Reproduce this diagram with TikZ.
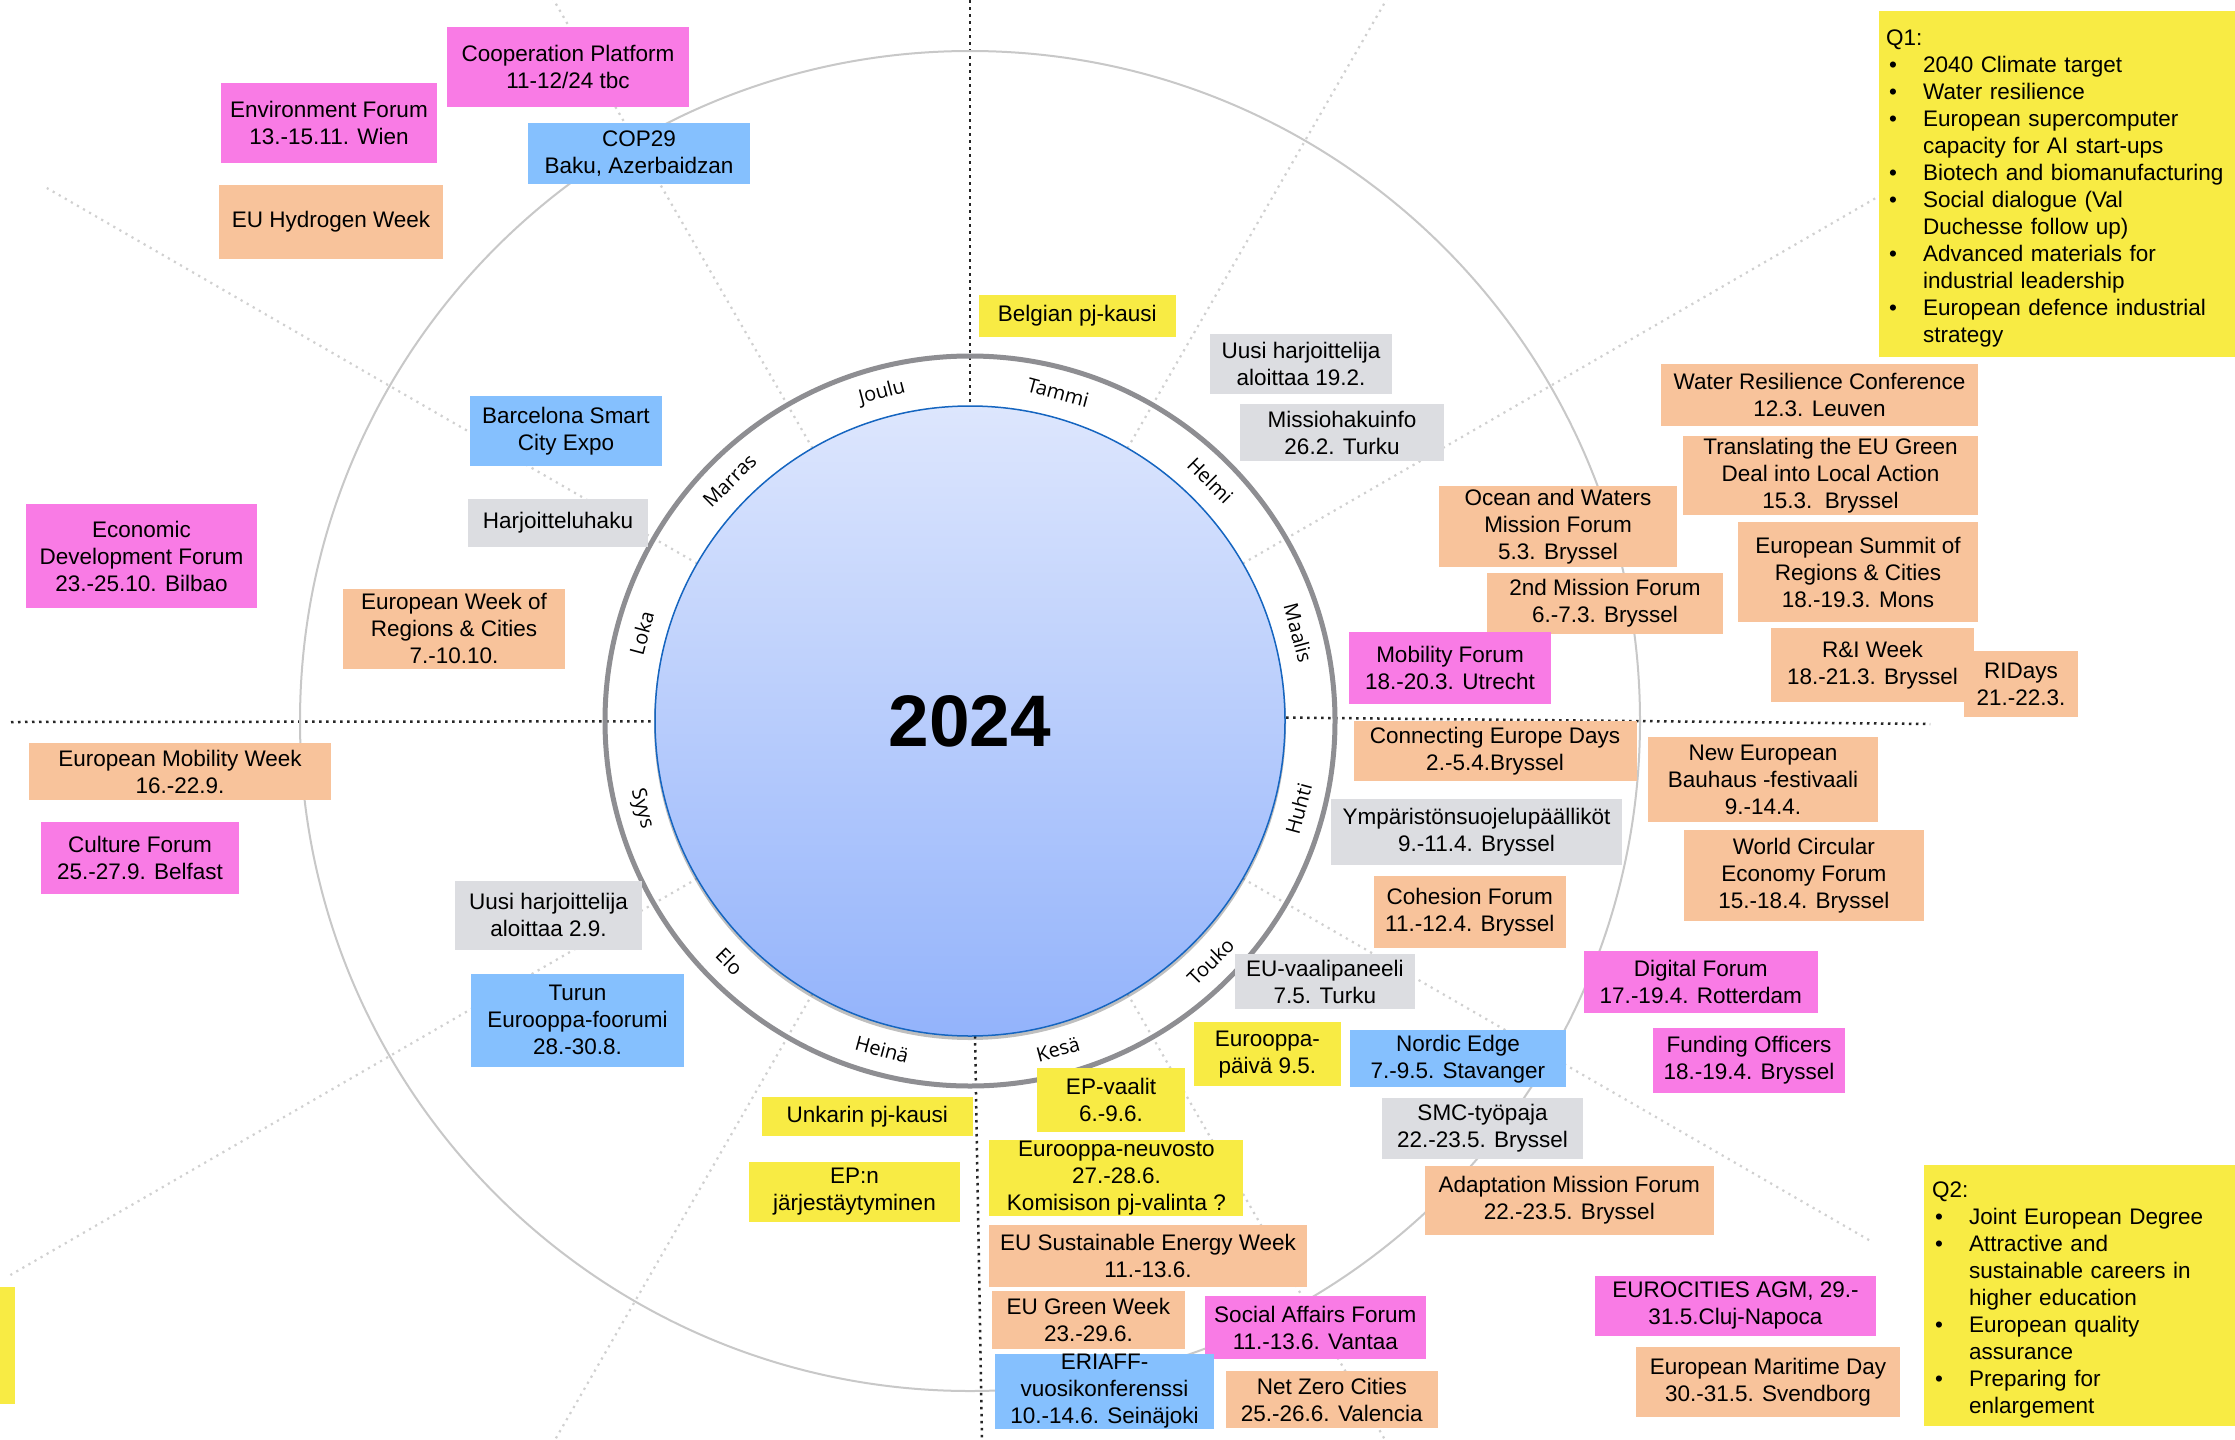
\documentclass[tikz,border=0pt]{standalone}
\usepackage{fontspec}
\setmainfont{Liberation Sans}
\newfontfamily\monthfont{Open Sans}
\usetikzlibrary{calc}
\definecolor{evpink}{HTML}{F97BE5}
\definecolor{evblue}{HTML}{85C0FE}
\definecolor{evorange}{HTML}{F8C39B}
\definecolor{evgray}{HTML}{DCDDE1}
\definecolor{evyellow}{HTML}{F8EB44}
\definecolor{ringgray}{HTML}{8E8E92}
\definecolor{circgray}{HTML}{C8C8C8}
\definecolor{raygray}{HTML}{D0D0D0}
\definecolor{discborder}{HTML}{1565C0}
\definecolor{disctop}{HTML}{DDE6FD}
\definecolor{discbottom}{HTML}{93B3FB}
\newcommand{\qbullet}{\makebox[37pt][l]{\hspace{3pt}\textbullet}}
\newcommand{\qindent}{\makebox[37pt]{}}
\begin{document}
\begin{tikzpicture}[x=1pt,y=-1pt]
				\tikzstyle{every node}+=[inner sep=0pt, align=center, font=\fontsize{22.5}{27}\selectfont]
				\tikzstyle{pinkbox}=[fill=evpink]
				\tikzstyle{bluebox}=[fill=evblue]
				\tikzstyle{orangebox}=[fill=evorange]
				\tikzstyle{graybox}=[fill=evgray]
				\tikzstyle{yellowbox}=[fill=evyellow]
				\tikzstyle{month}=[font=\monthfont\fontsize{20}{24}\selectfont]
				\tikzstyle{ray}=[raygray, line width=2.2, dash pattern=on 2.2pt off 4.8pt]
				\tikzstyle{quarter}=[black!85, line width=2.5, dash pattern=on 2.5pt off 4.5pt]
				\useasboundingbox (0,0) rectangle (2235,1440);
				\fill [white] (0,0) rectangle (2235,1440);
				\coordinate (c) at (970,721);
				\foreach \a/\l in {30/1050pt, 60/900pt, 120/900pt, 150/1066pt, 210/1108pt, 240/850pt, 300/850pt, 330/1040pt}
					\draw [ray] (c) -- ++(\a:\l);
				\draw [quarter] (970,0) -- (c);
				\draw [quarter] (975,1036) -- (982,1440);
				\draw [quarter] (11,722) -- (c);
				\draw [quarter] (1279,717.5) -- (1930,724);
				\draw [circgray, line width=2] (c) circle [radius=670pt];
				\draw [ringgray, line width=5] (c) circle [radius=365pt];
				\fill [black, opacity=0.25] ([yshift=-3pt]c) circle [radius=316pt];
				\draw [discborder, line width=1.5, top color=disctop, bottom color=discbottom] (c) circle [radius=315pt];
				\node [font=\fontsize{73}{80}\selectfont\bfseries] (year) at (c) {2024};
				\foreach \a/\m [count=\i] in {75/Tammi, 45/Helmi, 15/Maalis, 165/Loka, 135/Marras, 105/Joulu}
					\node [month, rotate=\a-90] (up\i) at ($(c)+(\a:340pt)$) {\m};
				\foreach \a/\m [count=\i] in {-15/Huhti, -45/Touko, -75/Kesä, -105/Heinä, -135/Elo, -165/Syys}
					\node [month, rotate=\a+90] (low\i) at ($(c)+(\a:340pt)$) {\m};
				\node [pinkbox, minimum width=242, minimum height=79.5] (coop) at (568,66.75) {Cooperation Platform\\11-12/24 tbc};
				\node [pinkbox, minimum width=216, minimum height=79.5] (envforum) at (329,122.75) {Environment Forum\\13.-15.11. Wien};
				\node [bluebox, minimum width=222, minimum height=61] (cop) at (639,153.5) {COP29\\Baku, Azerbaidzan};
				\node [orangebox, minimum width=224, minimum height=73.5] (hydrogen) at (331,221.75) {EU Hydrogen Week};
				\node [bluebox, minimum width=192, minimum height=70] (barcelona) at (566,431) {Barcelona Smart\\City Expo};
				\node [graybox, minimum width=180, minimum height=48] (harjhaku) at (558,523) {Harjoitteluhaku};
				\node [pinkbox, minimum width=231, minimum height=104] (econ) at (141.5,556) {Economic\\Development Forum\\23.-25.10. Bilbao};
				\node [orangebox, minimum width=222, minimum height=79.5] (ewrc) at (454,628.75) {European Week of\\Regions \& Cities\\7.-10.10.};
				\node [yellowbox, minimum width=196.6, minimum height=41.5] (belgian) at (1077.3,315.75) {Belgian pj-kausi};
				\node [graybox, minimum width=182, minimum height=59.5] (uusi1) at (1301,363.75) {Uusi harjoittelija\\aloittaa 19.2.};
				\node [graybox, minimum width=204, minimum height=57.4] (missio) at (1342,432.7) {Missiohakuinfo\\26.2. Turku};
				\node [yellowbox, anchor=north west, text width=347, inner xsep=7, minimum height=346, align=left] (q1) at (1879,11) {\rule{0pt}{24pt}Q1:\\
					\qbullet 2040 Climate target\\
					\qbullet Water resilience\\
					\qbullet European supercomputer\\
					\qindent capacity for AI start-ups\\
					\qbullet Biotech and biomanufacturing\\
					\qbullet Social dialogue (Val\\
					\qindent Duchesse follow up)\\
					\qbullet Advanced materials for\\
					\qindent industrial leadership\\
					\qbullet European defence industrial\\
					\qindent strategy};
				\node [orangebox, minimum width=317, minimum height=62] (waterres) at (1819.5,395) {Water Resilience Conference\\12.3. Leuven};
				\node [orangebox, minimum width=295, minimum height=79] (translating) at (1830.5,475.5) {Translating the EU Green\\Deal into Local Action\\15.3.~~Bryssel};
				\node [orangebox, minimum width=238, minimum height=81] (ocean) at (1558,526.5) {Ocean and Waters\\Mission Forum\\5.3. Bryssel};
				\node [orangebox, minimum width=240, minimum height=100] (summit) at (1858,572) {European Summit of\\Regions \& Cities\\18.-19.3. Mons};
				\node [orangebox, minimum width=236, minimum height=61] (mission2) at (1605,603) {2nd Mission Forum\\6.-7.3. Bryssel};
				\node [pinkbox, minimum width=202, minimum height=72] (mobility) at (1450,668) {Mobility Forum\\18.-20.3. Utrecht};
				\node [orangebox, minimum width=114, minimum height=66] (ridays) at (2021,684) {RIDays\\21.-22.3.};
				\node [orangebox, minimum width=203, minimum height=73.6] (riweek) at (1872.5,664.8) {R\&I Week\\18.-21.3. Bryssel};
				\node [orangebox, minimum width=302, minimum height=57] (mobweek) at (180,771.5) {European Mobility Week\\16.-22.9.};
				\node [pinkbox, minimum width=198, minimum height=71.5] (culture) at (140,857.75) {Culture Forum\\25.-27.9. Belfast};
				\node [orangebox, minimum width=283, minimum height=60] (ced) at (1495,751) {Connecting Europe Days\\2.-5.4.Bryssel};
				\node [orangebox, minimum width=230, minimum height=85.4] (bauhaus) at (1763,779.7) {New European\\Bauhaus -festivaali\\9.-14.4.};
				\node [graybox, minimum width=291, minimum height=65.6] (ympar) at (1476.5,831.8) {Ympäristönsuojelupäälliköt\\9.-11.4. Bryssel};
				\node [orangebox, minimum width=240.3, minimum height=90.6] (circular) at (1803.9,875.3) {World Circular\\Economy Forum\\15.-18.4. Bryssel};
				\node [orangebox, minimum width=191.5, minimum height=71.7] (cohesion) at (1469.8,911.9) {Cohesion Forum\\11.-12.4. Bryssel};
				\node [graybox, minimum width=187, minimum height=68.6] (uusi2) at (548.5,915.3) {Uusi harjoittelija\\aloittaa 2.9.};
				\node [bluebox, minimum width=213, minimum height=92.6] (turun) at (577.5,1020.3) {Turun\\Eurooppa-foorumi\\28.-30.8.};
				\node [graybox, minimum width=180.3, minimum height=55] (vaalipaneeli) at (1324.9,981.5) {EU-vaalipaneeli\\7.5. Turku};
				\node [pinkbox, minimum width=234.4, minimum height=62] (digital) at (1700.8,982) {Digital Forum\\17.-19.4. Rotterdam};
				\node [yellowbox, minimum width=147.2, minimum height=64.4] (eupaiva) at (1267.4,1054.2) {Eurooppa-\\päivä 9.5.};
				\node [bluebox, minimum width=216.3, minimum height=57.3] (nordic) at (1457.9,1058.7) {Nordic Edge\\7.-9.5. Stavanger};
				\node [pinkbox, minimum width=192, minimum height=65] (funding) at (1749,1060.5) {Funding Officers\\18.-19.4. Bryssel};
				\node [yellowbox, minimum width=148, minimum height=64.4] (epvaalit) at (1111,1099.8) {EP-vaalit\\6.-9.6.};
				\node [graybox, minimum width=201, minimum height=60.5] (smc) at (1482.5,1128.3) {SMC-työpaja\\22.-23.5. Bryssel};
				\node [yellowbox, minimum width=254, minimum height=76] (eurneuv) at (1116.4,1178) {Eurooppa-neuvosto\\27.-28.6.\\Komisison pj-valinta ?};
				\node [orangebox, minimum width=288.6, minimum height=68.7] (adaptation) at (1569.3,1200.4) {Adaptation Mission Forum\\22.-23.5. Bryssel};
				\node [yellowbox, minimum width=210.6, minimum height=39.4] (unkarin) at (867.3,1116.7) {Unkarin pj-kausi};
				\node [yellowbox, minimum width=211, minimum height=60] (epn) at (854.5,1192) {EP:n\\järjestäytyminen};
				\node [orangebox, minimum width=318, minimum height=61.7] (eusew) at (1148,1255.9) {EU Sustainable Energy Week\\11.-13.6.};
				\node [orangebox, minimum width=192.7, minimum height=58] (greenweek) at (1088.4,1320) {EU Green Week\\23.-29.6.};
				\node [pinkbox, minimum width=220.5, minimum height=63] (socaff) at (1315.3,1327.5) {Social Affairs Forum\\11.-13.6. Vantaa};
				\node [bluebox, minimum width=219, minimum height=75] (eriaff) at (1104.5,1391.5) {ERIAFF-\\vuosikonferenssi\\10.-14.6. Seinäjoki};
				\node [orangebox, minimum width=212.5, minimum height=57] (netzero) at (1331.8,1399.5) {Net Zero Cities\\25.-26.6. Valencia};
				\node [pinkbox, minimum width=281.3, minimum height=60.4] (eurocities) at (1735.4,1305.8) {EUROCITIES AGM, 29.-\\31.5.Cluj-Napoca};
				\node [orangebox, minimum width=264, minimum height=70] (maritime) at (1768,1382) {European Maritime Day\\30.-31.5. Svendborg};
				\node [yellowbox, anchor=north west, text width=300, inner xsep=8, minimum height=261, align=left] (q2) at (1924,1165) {\rule{0pt}{24pt}Q2:\\
					\qbullet Joint European Degree\\
					\qbullet Attractive and\\
					\qindent sustainable careers in\\
					\qindent higher education\\
					\qbullet European quality\\
					\qindent assurance\\
					\qbullet Preparing for\\
					\qindent enlargement};
				\node [yellowbox, minimum width=35, minimum height=117] (q3) at (-2.5,1345.5) {};
\end{tikzpicture}
\end{document}
